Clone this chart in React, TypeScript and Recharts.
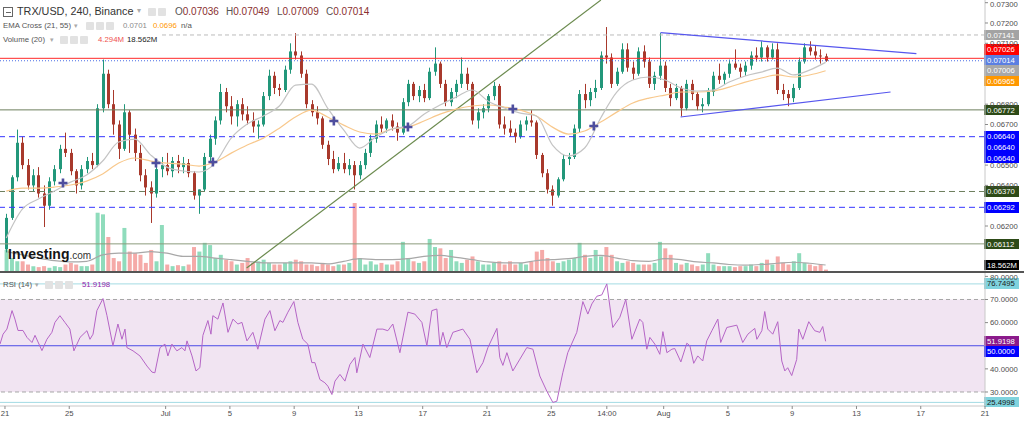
import React from 'react';
import {
  ComposedChart, Bar, Line, Scatter, XAxis, YAxis, ReferenceLine, ReferenceArea, Cell,
} from 'recharts';

const FONT = '"Liberation Sans", Arial, sans-serif';

// 8h candles, prices in 1/100000 USD: [open, high, low, close]
const candles = [
  [6085, 6260, 6070, 6240], [6240, 6450, 6230, 6440], [6440, 6675, 6420, 6610],
  [6610, 6640, 6480, 6500], [6500, 6530, 6380, 6400], [6400, 6480, 6370, 6450],
  [6450, 6490, 6340, 6360], [6360, 6400, 6195, 6300], [6300, 6440, 6280, 6420],
  [6420, 6500, 6400, 6480], [6480, 6600, 6460, 6580], [6580, 6660, 6540, 6560],
  [6560, 6580, 6450, 6470], [6470, 6480, 6360, 6400], [6400, 6500, 6380, 6480],
  [6480, 6540, 6460, 6520], [6520, 6560, 6480, 6500], [6500, 6800, 6490, 6780],
  [6780, 7020, 6760, 6950], [6950, 6970, 6780, 6800], [6800, 6870, 6650, 6700],
  [6700, 6720, 6530, 6580], [6580, 6800, 6570, 6760], [6760, 6770, 6560, 6650],
  [6650, 6680, 6520, 6560], [6560, 6600, 6420, 6450], [6450, 6480, 6350, 6390],
  [6390, 6420, 6215, 6360], [6360, 6500, 6340, 6480], [6480, 6540, 6440, 6500],
  [6500, 6560, 6450, 6470], [6470, 6540, 6440, 6520], [6520, 6550, 6460, 6490],
  [6490, 6540, 6460, 6510], [6510, 6530, 6440, 6460], [6460, 6470, 6330, 6350],
  [6350, 6380, 6260, 6380], [6380, 6560, 6370, 6540], [6540, 6650, 6520, 6630],
  [6630, 6740, 6600, 6720], [6720, 6900, 6700, 6860], [6860, 6880, 6760, 6790],
  [6790, 6840, 6700, 6740], [6740, 6820, 6690, 6800], [6800, 6830, 6720, 6750],
  [6750, 6790, 6700, 6720], [6720, 6760, 6660, 6690], [6690, 6720, 6630, 6700],
  [6700, 6860, 6690, 6840], [6840, 6970, 6820, 6940], [6940, 6960, 6850, 6880],
  [6880, 6900, 6840, 6870], [6870, 6990, 6860, 6970], [6970, 7100, 6950, 7060],
  [7060, 7150, 7020, 7040], [7040, 7060, 6930, 6950], [6950, 6970, 6780, 6800],
  [6800, 6820, 6740, 6760], [6760, 6790, 6700, 6730], [6730, 6740, 6580, 6600],
  [6600, 6620, 6500, 6530], [6530, 6570, 6460, 6480], [6480, 6540, 6470, 6510],
  [6510, 6560, 6460, 6480], [6480, 6530, 6450, 6500], [6500, 6520, 6380, 6450],
  [6450, 6520, 6430, 6500], [6500, 6580, 6480, 6560], [6560, 6650, 6540, 6630],
  [6630, 6720, 6610, 6700], [6700, 6740, 6660, 6680], [6680, 6730, 6660, 6720],
  [6720, 6750, 6670, 6690], [6690, 6710, 6620, 6660], [6660, 6830, 6650, 6810],
  [6810, 6920, 6790, 6900], [6900, 6910, 6820, 6840], [6840, 6890, 6810, 6870],
  [6870, 6900, 6810, 6830], [6830, 6980, 6820, 6960], [6960, 7080, 6940, 7000],
  [7000, 7010, 6880, 6900], [6900, 6920, 6790, 6810], [6810, 6880, 6790, 6860],
  [6860, 6920, 6830, 6900], [6900, 7030, 6880, 6950], [6950, 6980, 6870, 6900],
  [6900, 6910, 6700, 6720], [6720, 6780, 6680, 6760], [6760, 6800, 6730, 6780],
  [6780, 6850, 6760, 6840], [6840, 6910, 6820, 6890], [6890, 6900, 6680, 6700],
  [6700, 6740, 6650, 6680], [6680, 6720, 6640, 6660], [6660, 6680, 6610, 6640],
  [6640, 6720, 6630, 6700], [6700, 6740, 6670, 6720], [6720, 6770, 6690, 6710],
  [6710, 6720, 6530, 6550], [6550, 6560, 6440, 6460], [6460, 6480, 6360, 6380],
  [6380, 6400, 6300, 6350], [6350, 6440, 6340, 6430], [6430, 6550, 6420, 6530],
  [6530, 6560, 6500, 6540], [6540, 6700, 6530, 6680], [6680, 6870, 6660, 6850],
  [6850, 6900, 6780, 6820], [6820, 6880, 6790, 6860], [6860, 6920, 6830, 6880],
  [6880, 7060, 6870, 7040], [7040, 7180, 7000, 7030], [7030, 7050, 6880, 6900],
  [6900, 6980, 6890, 6960], [6960, 7100, 6950, 7070], [7070, 7100, 6960, 6980],
  [6980, 7010, 6920, 6950], [6950, 7080, 6940, 7060], [7060, 7090, 6980, 7010],
  [7010, 7030, 6880, 6900], [6900, 6960, 6870, 6940], [6940, 7150, 6920, 6990],
  [6990, 7010, 6860, 6880], [6880, 6900, 6790, 6830], [6830, 6900, 6820, 6880],
  [6880, 6890, 6740, 6780], [6780, 6920, 6770, 6900], [6900, 6920, 6820, 6850],
  [6850, 6860, 6770, 6790], [6790, 6830, 6760, 6800], [6800, 6880, 6790, 6860],
  [6860, 6960, 6840, 6940], [6940, 7000, 6900, 6920], [6920, 6960, 6900, 6950],
  [6950, 7020, 6930, 7000], [7000, 7070, 6970, 6980], [6980, 7000, 6930, 6960],
  [6960, 7010, 6940, 6990], [6990, 7060, 6970, 7040], [7040, 7080, 7010, 7030],
  [7030, 7110, 7010, 7080], [7080, 7090, 7010, 7030], [7030, 7100, 7020, 7070],
  [7070, 7100, 6850, 6870], [6870, 6900, 6820, 6850], [6850, 6870, 6790, 6830],
  [6830, 6900, 6810, 6880], [6880, 7030, 6870, 7010], [7010, 7100, 7000, 7080],
  [7080, 7110, 7040, 7060], [7060, 7090, 7020, 7040], [7040, 7070, 7000, 7036],
  [7036, 7049, 7009, 7014],
];

// volume per candle, millions
const volumes = [
  65, 40, 30, 30, 20, 15, 12, 15, 10, 15, 12, 20, 25, 20, 15, 15, 20, 180,
  175, 105, 40, 30, 133, 60, 55, 50, 25, 65, 30, 142, 20, 15, 18, 15, 20, 74,
  60, 87, 80, 40, 50, 35, 30, 20, 25, 40, 25, 30, 35, 25, 20, 20, 25, 30,
  35, 30, 20, 20, 15, 25, 20, 15, 20, 20, 25, 210, 40, 20, 30, 20, 25, 20,
  20, 30, 90, 40, 30, 25, 30, 99, 74, 70, 40, 65, 30, 25, 35, 45, 30, 20,
  20, 25, 30, 20, 30, 20, 25, 20, 30, 60, 65, 40, 30, 25, 30, 35, 40, 87,
  50, 40, 65, 45, 74, 50, 30, 25, 30, 25, 20, 20, 20, 25, 90, 70, 50, 25,
  20, 25, 20, 15, 20, 55, 20, 15, 15, 15, 12, 15, 15, 20, 15, 25, 35, 20,
  45, 25, 20, 30, 55, 25, 20, 15, 20, 4.294,
];

// one sample per day (first candle of each day), prices in 1/100000 USD
const ema21 = [
  6141, 6283, 6333, 6372, 6416, 6451, 6520, 6614, 6628, 6549, 6490, 6471, 6466,
  6510, 6633, 6702, 6742, 6791, 6894, 6899, 6781, 6673, 6584, 6638, 6678, 6692,
  6751, 6796, 6835, 6870, 6815, 6781, 6756, 6742, 6599, 6545, 6584, 6732, 6860,
  6919, 6934, 6919, 6880, 6865, 6870, 6909, 6939, 6958, 6978, 6944, 6968, 7006,
];
const ema55 = [
  6372, 6387, 6387, 6392, 6402, 6421, 6456, 6510, 6535, 6520, 6510, 6505, 6495,
  6515, 6559, 6599, 6633, 6682, 6737, 6771, 6737, 6697, 6663, 6653, 6678, 6687,
  6717, 6751, 6776, 6791, 6796, 6786, 6771, 6742, 6687, 6653, 6668, 6712, 6761,
  6806, 6830, 6845, 6860, 6860, 6865, 6884, 6909, 6929, 6944, 6934, 6944, 6965,
];
const volumeMa = [
  60, 50, 40, 32, 28, 30, 50, 55, 55, 60, 55, 45, 45, 40, 35, 30, 25, 25, 25,
  25, 22, 30, 38, 35, 35, 38, 45, 48, 42, 35, 28, 25, 25, 32, 35, 38, 45, 48,
  40, 32, 30, 38, 35, 28, 25, 20, 18, 20, 24, 27, 24, 18.562,
];

// EMA cross markers (days since Jun 21, price)
const crossTimes = [3.61, 9.4, 12.94, 20.47, 25.08, 31.61, 36.65];
const crossPrices = [0.064118, 0.065103, 0.065153, 0.067172, 0.066877, 0.067764, 0.066926];

// RSI(14) trace: days since Jun 21, value
const rsiTimes = [
  -0.31, -0.12, 0.12, 0.44, 0.62, 0.81, 1.12, 1.37, 1.68, 1.87, 2.3, 2.61, 2.92, 3.11, 3.42,
  3.73, 4.04, 4.29, 4.67, 5.1, 5.29, 5.48, 5.72, 6.1, 6.35, 6.72, 7.03, 7.28, 7.47, 7.59,
  7.97, 8.4, 8.84, 9.15, 9.33, 9.65, 9.96, 10.14, 10.39, 10.7, 11.01, 11.2, 11.33, 11.64,
  11.89, 12.13, 12.32, 12.63, 12.82, 12.94, 13.25, 13.57, 13.88, 14.19, 14.5, 14.75, 15.06,
  15.43, 15.74, 16.18, 16.49, 16.8, 17.11, 17.3, 17.61, 17.98, 18.23, 18.54, 18.85, 19.1,
  19.29, 19.6, 19.91, 20.1, 20.35, 20.54, 20.85, 21.16, 21.47, 21.78, 21.9, 22.28, 22.71,
  23.15, 23.52, 23.83, 24.14, 24.58, 25.08, 25.51, 25.95, 26.26, 26.57, 26.88, 27.07, 27.26,
  27.5, 27.88, 28.5, 28.94, 29.37, 29.75, 30.06, 30.62, 30.8, 30.99, 31.24, 31.61, 32.05,
  32.48, 32.86, 33.29, 33.73, 34.1, 34.35, 34.72, 35.03, 35.59, 35.97, 36.28, 36.53, 36.84,
  37.15, 37.46, 37.83, 38.27, 38.64, 39.02, 39.51, 39.7, 39.95, 40.14, 40.45, 40.76, 40.95,
  41.2, 41.51, 41.69, 42.07, 42.44, 42.63, 42.87, 43.12, 43.43, 43.68, 44.0, 44.37, 44.55,
  44.93, 45.55, 45.92, 46.24, 46.67, 46.8, 47.11, 47.29, 47.48, 47.79, 48.1, 48.35, 48.54,
  48.72, 48.97, 49.28, 49.41, 49.66, 50.03, 50.4, 50.72, 50.9, 51.08,
];
const rsiValues = [
  50.7, 55, 57.2, 65.2, 61.5, 56.6, 56.6, 53.6, 51.4, 54.5, 47.9, 52.8, 55.8, 60.1, 63,
  60.1, 57.2, 47.8, 53.6, 56.5, 52.8, 55, 65.2, 70.4, 63, 50, 59.4, 52.8, 57.2, 49.2,
  47.8, 45.6, 41.2, 38.6, 38.3, 49.2, 50.7, 45.6, 50.7, 47.8, 49.2, 47.8, 52.1, 45.6,
  39.1, 40.5, 54.5, 60.9, 55, 63, 61.5, 68.5, 55.8, 61.5, 59.4, 60.1, 52.1,
  55.8, 48.5, 61.5, 65.2, 56.5, 60.9, 60.1, 64.5, 69.1, 60.1, 52.8, 50.7, 42.7,
  42.7, 35.4, 34, 32.5, 28.9, 34.7, 37.6, 34.7, 41.9, 44.9, 38.3, 50.7, 44.9,
  57.2, 57.2, 56.5, 59.4, 47, 64.5, 63.7, 60.1, 50, 65.2, 65.9, 50, 55.8,
  49.2, 55.8, 57.2, 52.8, 38.3, 42.7, 49.2, 57.5, 44.9, 41.5, 47, 39.1, 44.2,
  49.2, 48.5, 36.9, 30.3, 25.5, 26, 38.3, 47, 55.8, 69.1, 63.7, 68.1, 71.4,
  72, 76.75, 57.9, 62.3, 70, 52.8, 61.5, 60.1, 48.5, 53.6, 50.7, 46.3, 56.1,
  47, 48.5, 48.8, 43, 51.1, 50, 42.4, 45.6, 43.4, 52.1, 56.5, 61.5, 51.4,
  57.9, 58.9, 51.4, 55, 57.5, 52.8, 56.5, 64.8, 57.2, 55, 60.4, 43.4, 39.1,
  40.5, 37.1, 44.1, 57.2, 52.8, 60.4, 56.5, 55.8, 58.3, 51.92,
];

const xTicks = [0, 4, 10, 14, 18, 22, 26, 30, 34, 37.46, 41, 45, 49, 53, 57, 61];
const xTickLabels = ['21', '25', 'Jul', '5', '9', '13', '17', '21', '25', '14:00', 'Aug', '5', '9', '13', '17', '21'];
const priceTicks = [0.062, 0.064, 0.065, 0.067, 0.068, 0.071, 0.072, 0.073];
const rsiTicks = [30, 40, 60, 70, 80];

const priceLevels = [0.07141, 0.07026, 0.07014, 0.07006, 0.06965, 0.06772, 0.0664, 0.0664, 0.0664, 0.0637, 0.06292, 0.06112];
const rsiLevels = [76.7495, 70, 51.9198, 50, 30, 25.4998];

// drawn trend lines: [days, price] -> [days, price]
const trendFrom = [[15.04, 0.059931], [40.8, 0.071522], [42.05, 0.067369]];
const trendTo = [[37.09, 0.07313], [56.73, 0.070488], [55.12, 0.068601]];

const X_DOMAIN = [-0.31, 61];
const PRICE_DOMAIN = [0.0597833, 0.073133];
const RSI_DOMAIN = [23.94, 81.46];

const UP = '#22977a';
const DOWN = '#a8392c';

const levelLook = [
  { stroke: '#bcbcbc', dash: '4 3', bg: '#a3a3a3', dy: 0 },
  { stroke: '#ff2a2a', dash: undefined, bg: '#ff0000', dy: -9 },
  { stroke: '#4a6ee6', dash: '1 2', bg: '#5b7fe2', dy: -0.8 },
  { stroke: 'none', dash: undefined, bg: '#a8a8a8', dy: 8.3 },
  { stroke: 'none', dash: undefined, bg: '#ff9800', dy: 10.3 },
  { stroke: '#6e7f5e', dash: undefined, bg: '#2d4a17', dy: 0 },
  { stroke: '#3535ff', dash: '6 4', bg: '#0000ff', dy: 0 },
  { stroke: 'none', dash: undefined, bg: '#0000ff', dy: 10.6 },
  { stroke: 'none', dash: undefined, bg: '#0000ff', dy: 21.2 },
  { stroke: '#6e7f5e', dash: '6 4', bg: '#2d4a17', dy: 0 },
  { stroke: '#3535ff', dash: '6 4', bg: '#0000ff', dy: 0 },
  { stroke: '#8c9c7c', dash: undefined, bg: '#2d4a17', dy: 0 },
];
const rsiLook = [
  { stroke: '#a3dbe4', dash: undefined, bg: '#7fd3de', fg: '#1a1a1a', dy: -0.5 },
  { stroke: '#a6a6a6', dash: '4 3', bg: null, fg: '', dy: 0 },
  { stroke: 'none', dash: undefined, bg: '#8b1a8b', fg: '#fff', dy: -0.5 },
  { stroke: '#4b4be6', dash: undefined, bg: '#0000ff', fg: '#fff', dy: 5.8 },
  { stroke: '#a6a6a6', dash: '4 3', bg: null, fg: '', dy: 0 },
  { stroke: '#a3dbe4', dash: undefined, bg: '#7fd3de', fg: '#1a1a1a', dy: -0.5 },
];
const trendColors = ['#6b8a4e', '#5656ee', '#5656ee'];

const candleData = candles.map(([o, h, l, c], i) => ({
  t: i / 3 + 0.08,
  open: o / 1e5,
  high: h / 1e5,
  low: l / 1e5,
  close: c / 1e5,
  vol: volumes[i],
}));
const dailyData = ema21.map((v, d) => ({
  t: d + 0.08,
  ema21: v / 1e5,
  ema55: ema55[d] / 1e5,
  volMa: volumeMa[d],
}));
const crossData = crossTimes.map((t, i) => ({ t, p: crossPrices[i] }));
const rsiData = rsiTimes.map((t, i) => ({ t, rsi: rsiValues[i] }));

const boxLabel = (text: string, bg: string, fg: string, dy = 0) => (props: any) => {
  const vb = props.viewBox || {};
  const x = (vb.x || 0) + (vb.width || 0);
  const y = (vb.y || 0) + dy;
  return (
    <g>
      <rect x={x - 1} y={y - 5.3} width={35} height={10.6} fill={bg} shapeRendering="crispEdges" />
      <text x={x + 2} y={y + 2.8} fill={fg} fontSize={7.7} fontFamily={FONT}>{text}</text>
    </g>
  );
};

const Candle = (props: any) => {
  const { x, y, width, height, payload } = props;
  if (x == null || !payload) return null;
  const top = Math.min(y, y + height);
  const h = Math.abs(height);
  const { open, close, high, low } = payload;
  const k = high > low ? h / (high - low) : 0;
  const yO = top + (high - open) * k;
  const yC = top + (high - close) * k;
  const col = close >= open ? UP : DOWN;
  const cx = Math.round(x + width / 2) + 0.5;
  return (
    <g>
      <line x1={cx} x2={cx} y1={top} y2={top + h} stroke={col} strokeWidth={1} />
      <rect x={cx - 1.5} y={Math.min(yO, yC)} width={3} height={Math.max(1, Math.abs(yO - yC))} fill={col} />
    </g>
  );
};

const Cross = (p: any) => (
  <path d={`M${p.cx - 4.5},${p.cy}H${p.cx + 4.5}M${p.cx},${p.cy - 4.5}V${p.cy + 4.5}`} stroke="#4e4e9e" strokeWidth={2.6} />
);

const axisTick = { fontSize: 7.7, fill: '#4d4d4d', fontFamily: FONT };

const Icon = ({ left, top }: { left: number; top: number }) => (
  <span style={{ position: 'absolute', left, top, width: 8, height: 8, background: '#e2e2e2', borderRadius: 1 }} />
);

const Txt = ({ left, top, size, color, bold, children }: any) => (
  <span style={{ position: 'absolute', left, top, fontSize: size, color, fontWeight: bold ? 700 : 400, whiteSpace: 'nowrap', lineHeight: 1 }}>
    {children}
  </span>
);

export default function App() {
  return (
    <div style={{ position: 'relative', width: 1024, height: 425, background: '#fff', fontFamily: FONT, overflow: 'hidden' }}>
      <style>{'body{margin:0}'}</style>

      {/* volume pane (behind prices) */}
      <div style={{ position: 'absolute', left: 0, top: 0 }}>
        <ComposedChart width={1024} height={271} data={candleData} margin={{ top: 0, right: 39, bottom: 0, left: 0 }}>
          <XAxis type="number" dataKey="t" domain={X_DOMAIN} allowDataOverflow hide />
          <YAxis hide domain={[0, 837]} allowDataOverflow />
          <Bar dataKey="vol" barSize={4} isAnimationActive={false}>
            {candleData.map((d, i) => (
              <Cell key={i} fill={d.close >= d.open ? '#8fdcbc' : '#f5aaa8'} />
            ))}
          </Bar>
          <Line data={dailyData} dataKey="volMa" type="monotone" dot={false} activeDot={false} stroke="#a8a8a8" strokeWidth={1.2} isAnimationActive={false} />
          <ReferenceLine y={18.562} stroke="none" label={boxLabel('18.562M', '#000', '#fff')} />
        </ComposedChart>
      </div>

      {/* price pane */}
      <div style={{ position: 'absolute', left: 0, top: 0 }}>
        <ComposedChart width={1024} height={271} data={candleData} margin={{ top: 0, right: 0, bottom: 0, left: 0 }}>
          <XAxis type="number" dataKey="t" domain={X_DOMAIN} allowDataOverflow hide />
          <YAxis
            orientation="right" width={39} domain={PRICE_DOMAIN} allowDataOverflow ticks={priceTicks}
            tickFormatter={(v: number) => v.toFixed(5)} tick={axisTick} tickSize={3}
            axisLine={{ stroke: '#c8c8c8' }} tickLine={{ stroke: '#8a8a8a' }}
          />
          {priceLevels.map((p, i) => (
            <ReferenceLine
              key={'lv' + i} y={p} stroke={levelLook[i].stroke} strokeDasharray={levelLook[i].dash}
              label={boxLabel(p.toFixed(5), levelLook[i].bg, '#fff', levelLook[i].dy)}
            />
          ))}
          {trendFrom.map((f, i) => (
            <ReferenceLine
              key={'tr' + i}
              segment={[{ x: f[0], y: f[1] }, { x: trendTo[i][0], y: trendTo[i][1] }]}
              stroke={trendColors[i]} strokeWidth={1.2}
            />
          ))}
          <Line data={dailyData} dataKey="ema55" type="monotone" dot={false} activeDot={false} stroke="#f8c88c" strokeWidth={1.2} isAnimationActive={false} />
          <Line data={dailyData} dataKey="ema21" type="monotone" dot={false} activeDot={false} stroke="#c4c4c4" strokeWidth={1.2} isAnimationActive={false} />
          <Bar dataKey={(d: any) => [d.low, d.high]} shape={Candle} barSize={3} isAnimationActive={false} />
          <Scatter data={crossData} dataKey="p" shape={Cross} isAnimationActive={false} />
        </ComposedChart>
      </div>

      {/* pane separator */}
      <div style={{ position: 'absolute', left: 0, top: 271, width: 1024, height: 2, background: '#555' }} />

      {/* RSI pane */}
      <div style={{ position: 'absolute', left: 0, top: 273 }}>
        <ComposedChart width={1024} height={152} data={rsiData} margin={{ top: 0, right: 0, bottom: 0, left: 0 }}>
          <XAxis
            type="number" dataKey="t" domain={X_DOMAIN} allowDataOverflow ticks={xTicks} interval={0}
            tickFormatter={(v: number) => xTickLabels[xTicks.indexOf(v)] ?? ''} height={19}
            tick={axisTick} tickSize={3} axisLine={{ stroke: '#c8c8c8' }} tickLine={{ stroke: '#8a8a8a' }}
          />
          <YAxis
            orientation="right" width={39} domain={RSI_DOMAIN} allowDataOverflow ticks={rsiTicks}
            tickFormatter={(v: number) => v.toFixed(4)} tick={axisTick} tickSize={3}
            axisLine={{ stroke: '#c8c8c8' }} tickLine={{ stroke: '#8a8a8a' }}
          />
          <ReferenceArea y1={30} y2={70} fill="#f1e4f2" fillOpacity={1} stroke="none" />
          {rsiLevels.map((v, i) => (
            <ReferenceLine
              key={'rl' + i} y={v} stroke={rsiLook[i].stroke} strokeDasharray={rsiLook[i].dash}
              label={rsiLook[i].bg ? boxLabel(v.toFixed(4), rsiLook[i].bg as string, rsiLook[i].fg, rsiLook[i].dy) : undefined}
            />
          ))}
          <Line dataKey="rsi" type="linear" dot={false} activeDot={false} stroke="#b565c6" strokeWidth={1} isAnimationActive={false} />
        </ComposedChart>
      </div>

      {/* legends */}
      <span style={{ position: 'absolute', left: 3, top: 7, width: 8, height: 8, border: '1px solid #666' }}>
        <span style={{ position: 'absolute', left: 1.5, top: 3.5, width: 5, height: 1, background: '#666' }} />
      </span>
      <Txt left={17} top={6} size={10.8} color="#333">TRX/USD, 240, Binance</Txt>
      <Txt left={137} top={7} size={8} color="#aaa">▾</Txt>
      <Icon left={148} top={8} />
      <Icon left={158} top={8} />
      <Txt left={175} top={7} size={10} color="#555">O<span style={{ color: '#8a2f2f' }}>0.07036</span></Txt>
      <Txt left={226} top={7} size={10} color="#555">H<span style={{ color: '#8a2f2f' }}>0.07049</span></Txt>
      <Txt left={277} top={7} size={10} color="#555">L<span style={{ color: '#8a2f2f' }}>0.07009</span></Txt>
      <Txt left={326} top={7} size={10} color="#555">C<span style={{ color: '#8a2f2f' }}>0.07014</span></Txt>

      <Txt left={3} top={22} size={7.8} color="#555">EMA Cross (21, 55)</Txt>
      <Txt left={74} top={22} size={7} color="#aaa">▾</Txt>
      <Icon left={86} top={22} />
      <Icon left={96} top={22} />
      <Icon left={106} top={22} />
      <Txt left={123} top={22} size={7.8} color="#8c8c8c">0.0701</Txt>
      <Txt left={153} top={22} size={7.8} color="#ff9800">0.0696</Txt>
      <Txt left={181} top={22} size={7.8} color="#555">n/a</Txt>

      <span style={{ position: 'absolute', left: 0, top: 33, width: 162, height: 12, background: '#fff' }} />
      <Txt left={3} top={35.5} size={7.8} color="#555">Volume (20)</Txt>
      <Txt left={50} top={35.5} size={7} color="#aaa">▾</Txt>
      <Icon left={60} top={35.5} />
      <Icon left={70} top={35.5} />
      <Icon left={80} top={35.5} />
      <Txt left={98} top={35.5} size={7.8} color="#ef5350">4.294M</Txt>
      <Txt left={127} top={35.5} size={7.8} color="#222">18.562M</Txt>

      <Txt left={3} top={280.5} size={7.8} color="#555">RSI (14)</Txt>
      <Txt left={35} top={280.5} size={7} color="#aaa">▾</Txt>
      <Icon left={45} top={280.5} />
      <Icon left={55} top={280.5} />
      <Icon left={65} top={280.5} />
      <Txt left={82} top={280.5} size={7.8} color="#8e24aa">51.9198</Txt>

      <Txt left={8} top={247} size={14} color="#151515" bold>
        Investing<span style={{ fontSize: 10, fontWeight: 400, color: '#333' }}>.com</span>
      </Txt>
    </div>
  );
}
